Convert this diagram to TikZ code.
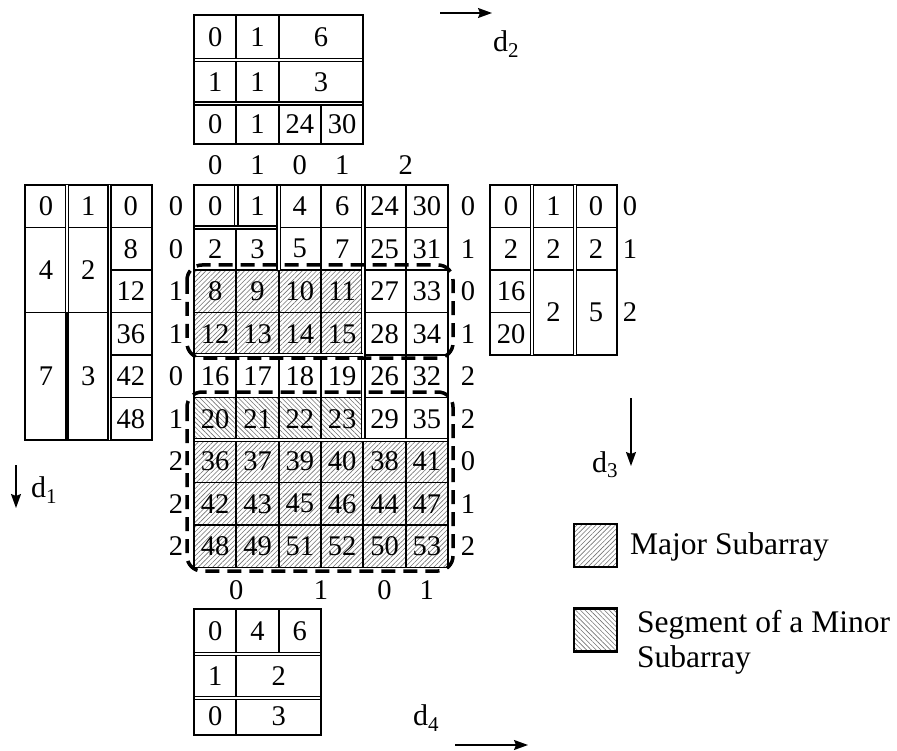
\documentclass[tikz,border=0pt]{standalone}
\usepackage{fontspec}
\setmainfont{Liberation Serif}
\usetikzlibrary{arrows.meta,patterns.meta}
\begin{document}
\begin{tikzpicture}[x=1pt,y=-1pt,
  num/.style={inner sep=0pt,font=\fontsize{28.5}{30}\selectfont},
  gridline/.style={line width=1.9pt},
  dbl/.style={line width=1.5pt,double,double distance=1.7pt},
  thickline/.style={line width=4pt},
  major/.style={pattern={Lines[angle=45,distance=3.4pt,line width=0.6pt]},pattern color=black!55},
  minor/.style={pattern={Lines[angle=-45,distance=3.4pt,line width=0.6pt]},pattern color=black!55},
  region/.style={line width=3.5pt,dash pattern=on 14pt off 8pt,rounded corners=15pt},
  dirarrow/.style={line width=1.5pt,-{Stealth[length=14pt,width=10pt,inset=2pt]}},
  dlabel/.style={inner sep=0pt,font=\fontsize{30}{32}\selectfont},
  legend/.style={font=\fontsize{31.5}{35}\selectfont,inner sep=0pt,anchor=west,align=left},
  legbox/.style={draw,line width=2.4pt,minimum size=43pt,inner sep=0pt}
]
\useasboundingbox (0,0) rectangle (897,751);

% ---------- central grid ----------
\fill[major] (194,270) rectangle (363.33,355);
\fill[minor] (194,397.5) rectangle (363.33,440);
\fill[major] (194,440) rectangle (448,567.5);
\foreach \i in {0,...,6} \draw[gridline] ({194+42.333*\i},185) -- ({194+42.333*\i},567.5);
\foreach \j in {0,...,9} \draw[gridline] (194,{185+42.5*\j}) -- (448,{185+42.5*\j});
\draw[dbl] (236.33,185) -- (236.33,227.5);
\draw[dbl] (194,227.5) -- (278.67,227.5);
\draw[dbl] (278.67,185) -- (278.67,270);
\draw[dbl] (363.33,185) -- (363.33,440);
\draw[dbl] (194,355) -- (363.33,355);
\draw[dbl] (194,440) -- (448,440);
\draw[gridline] (194,185) rectangle (448,567.5);
\foreach \row [count=\r from 0] in {{0,1,4,6,24,30},{2,3,5,7,25,31},{8,9,10,11,27,33},{12,13,14,15,28,34},{16,17,18,19,26,32},{20,21,22,23,29,35},{36,37,39,40,38,41},{42,43,45,46,44,47},{48,49,51,52,50,53}}
  \foreach \v [count=\c from 0] in \row
    \node[num] (m-\r-\c) at ({215.17+42.333*\c},{206.25+42.5*\r}) {\v};

% labels round the grid
\foreach \v/\x [count=\i] in {0/215.17,1/257.5,0/299.83,1/342.17,2/405.67}
  \node[num] (top-\i) at (\x,165) {\v};
\foreach \v [count=\r from 0] in {0,0,1,1,0,1,2,2,2}
  \node[num] (lft-\r) at (176,{206.25+42.5*\r}) {\v};
\foreach \v [count=\r from 0] in {0,1,0,1,2,2,0,1,2}
  \node[num] (rgt-\r) at (468,{206.25+42.5*\r}) {\v};
\foreach \v/\x [count=\i] in {0/236.33,1/321,0/384.5,1/426.83}
  \node[num] (bot-\i) at (\x,590) {\v};

% ---------- left table ----------
\draw[gridline] (25,185) rectangle (152,440);
\draw[gridline] (25,227.5) -- (152,227.5);
\draw[gridline] (25,312.5) -- (152,312.5);
\foreach \y in {270,355,397.5} \draw[gridline] (109.5,\y) -- (152,\y);
\draw[dbl] (67,185) -- (67,312.5);
\draw[thickline] (67,312.5) -- (67,440);
\draw[dbl] (109.5,185) -- (109.5,440);
\node[num] (l-a0) at (46,206.25) {0};
\node[num] (l-a1) at (46,270) {4};
\node[num] (l-a2) at (46,376.25) {7};
\node[num] (l-b0) at (88.25,206.25) {1};
\node[num] (l-b1) at (88.25,270) {2};
\node[num] (l-b2) at (88.25,376.25) {3};
\foreach \v [count=\r from 0] in {0,8,12,36,42,48}
  \node[num] (l-c\r) at (130.75,{206.25+42.5*\r}) {\v};

% ---------- right table ----------
\draw[gridline] (490,185) rectangle (617,355);
\draw[gridline] (490,227.5) -- (617,227.5);
\draw[gridline] (490,270) -- (617,270);
\draw[gridline] (490,312.5) -- (532,312.5);
\draw[dbl] (532,185) -- (532,355);
\draw[dbl] (575,185) -- (575,355);
\foreach \v [count=\r from 0] in {0,2,16,20}
  \node[num] (r-a\r) at (511,{206.25+42.5*\r}) {\v};
\node[num] (r-b0) at (553.5,206.25) {1};
\node[num] (r-b1) at (553.5,248.75) {2};
\node[num] (r-b2) at (553.5,312.5) {2};
\node[num] (r-c0) at (596,206.25) {0};
\node[num] (r-c1) at (596,248.75) {2};
\node[num] (r-c2) at (596,312.5) {5};
\node[num] (r-l0) at (630,206.25) {0};
\node[num] (r-l1) at (630,248.75) {1};
\node[num] (r-l2) at (630,312.5) {2};

% ---------- top table ----------
\draw[gridline] (194,15) rectangle (363.33,144);
\draw[gridline] (236.33,15) -- (236.33,144);
\draw[gridline] (278.67,15) -- (278.67,144);
\draw[gridline] (321,103.5) -- (321,144);
\draw[dbl] (194,60) -- (363.33,60);
\draw[dbl] (194,103.5) -- (363.33,103.5);
\draw[gridline] (194,15) rectangle (363.33,144);
\node[num] (t-00) at (215.17,37.5) {0};
\node[num] (t-01) at (257.5,37.5) {1};
\node[num] (t-02) at (321,37.5) {6};
\node[num] (t-10) at (215.17,81.75) {1};
\node[num] (t-11) at (257.5,81.75) {1};
\node[num] (t-12) at (321,81.75) {3};
\node[num] (t-20) at (215.17,123.75) {0};
\node[num] (t-21) at (257.5,123.75) {1};
\node[num] (t-22) at (299.83,123.75) {24};
\node[num] (t-23) at (342.17,123.75) {30};

% ---------- bottom table ----------
\draw[gridline] (194,609) rectangle (321,735);
\draw[gridline] (236.33,609) -- (236.33,735);
\draw[gridline] (278.67,609) -- (278.67,654);
\draw[dbl] (194,654) -- (321,654);
\draw[dbl] (194,698) -- (321,698);
\draw[gridline] (194,609) rectangle (321,735);
\node[num] (b-00) at (215.17,631.5) {0};
\node[num] (b-01) at (257.5,631.5) {4};
\node[num] (b-02) at (299.83,631.5) {6};
\node[num] (b-10) at (215.17,676) {1};
\node[num] (b-11) at (278.67,676) {2};
\node[num] (b-20) at (215.17,716.5) {0};
\node[num] (b-21) at (278.67,716.5) {3};

% ---------- dashed regions ----------
\draw[region] (187,265) rectangle (453,358);
\draw[region] (187,392) rectangle (453,571);

% ---------- directions ----------
\coordinate (d2s) at (440,13);
\coordinate (d2e) at (492,13);
\draw[dirarrow] (d2s) -- (d2e);
\node[dlabel] (d2) at (506,44) {d\textsubscript{2}};
\coordinate (d1s) at (16,465);
\coordinate (d1e) at (16,508);
\draw[dirarrow] (d1s) -- (d1e);
\node[dlabel] (d1) at (44,490) {d\textsubscript{1}};
\coordinate (d3s) at (631,398);
\coordinate (d3e) at (631,466);
\draw[dirarrow] (d3s) -- (d3e);
\node[dlabel] (d3) at (605,465) {d\textsubscript{3}};
\coordinate (d4s) at (455,745);
\coordinate (d4e) at (528,745);
\draw[dirarrow] (d4s) -- (d4e);
\node[dlabel] (d4) at (426,718) {d\textsubscript{4}};

% ---------- legend ----------
\node[legbox,major] (leg1) at (595.5,545.5) {};
\node[legend] (leg1t) at (630,547) {Major Subarray};
\node[legbox,minor] (leg2) at (595.5,630) {};
\node[legend] (leg2t) at (637,642) {Segment of a Minor\\Subarray};
\end{tikzpicture}
\end{document}
